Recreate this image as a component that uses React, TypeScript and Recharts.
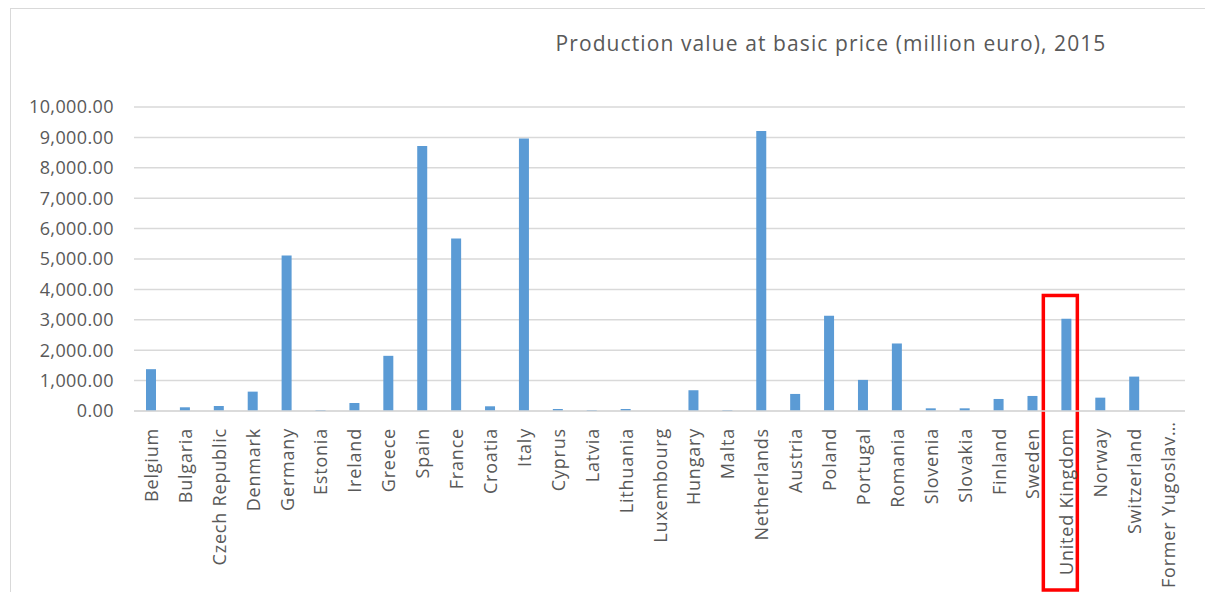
import React from 'react';
import { BarChart, Bar, XAxis, YAxis, CartesianGrid, ReferenceArea } from 'recharts';

const countries = [
  'Belgium', 'Bulgaria', 'Czech Republic', 'Denmark', 'Germany', 'Estonia', 'Ireland', 'Greece',
  'Spain', 'France', 'Croatia', 'Italy', 'Cyprus', 'Latvia', 'Lithuania', 'Luxembourg', 'Hungary',
  'Malta', 'Netherlands', 'Austria', 'Poland', 'Portugal', 'Romania', 'Slovenia', 'Slovakia',
  'Finland', 'Sweden', 'United Kingdom', 'Norway', 'Switzerland', 'Former Yugoslav…',
];

const productionValue = [
  1376, 122, 165, 637, 5115, 33, 264, 1815,
  8713, 5677, 155, 8960, 66, 33, 66, 0, 683,
  33, 9210, 561, 3135, 1023, 2221, 88, 88,
  396, 495, 3036, 439, 1132, 0,
];

const yTicks = [0, 1000, 2000, 3000, 4000, 5000, 6000, 7000, 8000, 9000, 10000];

const highlighted = 'United Kingdom';

const data = countries.map((name, i) => ({ name, value: productionValue[i] }));

const fmt = (v: number) =>
  v.toLocaleString('en-US', { minimumFractionDigits: 2, maximumFractionDigits: 2 });

const font = '"Open Sans", sans-serif';
const textColor = '#595959';
const CHART_H = 584;

// long labels that do not fit below the axis are anchored to the bottom edge
const CountryTick = ({ x, y, payload }: any) => {
  const tooLong = payload.value.length > 15;
  const ty = tooLong ? CHART_H - 4 : y + 9;
  return (
    <text
      transform={`translate(${x + 7},${ty}) rotate(-90)`}
      textAnchor={tooLong ? 'start' : 'end'}
      fill={textColor}
      fontSize={18}
      letterSpacing={0.8}
      fontFamily={font}
    >
      {payload.value}
    </text>
  );
};

const HighlightBox = ({ x, y, width, height }: any) => (
  <rect
    x={x + width / 2 - 23}
    y={y}
    width={34}
    height={height + 179}
    fill="none"
    stroke="#ff0000"
    strokeWidth={3.5}
  />
);

export default function App() {
  return (
    <div style={{ position: 'relative', width: 1197, height: CHART_H, fontFamily: font }}>
      <div
        style={{
          position: 'absolute',
          left: 2,
          top: 0,
          right: 0,
          bottom: 0,
          borderTop: '1px solid #d9d9d9',
          borderLeft: '1px solid #d9d9d9',
        }}
      />
      <div
        style={{
          position: 'absolute',
          left: 823 - 350,
          width: 700,
          top: 22,
          textAlign: 'center',
          fontSize: 21,
          letterSpacing: 1.1,
          lineHeight: '26px',
          color: textColor,
        }}
      >
        Production value at basic price (million euro), 2015
      </div>
      <BarChart
        width={1197}
        height={CHART_H}
        data={data}
        margin={{ top: 99, right: 20, bottom: 0, left: 0 }}
        barSize={10}
        style={{ position: 'absolute', left: 0, top: 0 }}
      >
        <CartesianGrid vertical={false} stroke="#d9d9d9" strokeWidth={1.5} />
        <XAxis
          dataKey="name"
          interval={0}
          height={181}
          tickLine={false}
          axisLine={{ stroke: '#d9d9d9', strokeWidth: 1.5 }}
          tick={<CountryTick />}
        />
        <YAxis
          domain={[0, 10000]}
          ticks={yTicks}
          width={126}
          tickLine={false}
          axisLine={false}
          tickMargin={14}
          tickFormatter={fmt}
          tick={{ fill: textColor, fontSize: 18, letterSpacing: 0.4, fontFamily: font }}
          interval={0}
        />
        <Bar dataKey="value" fill="#5b9bd5" isAnimationActive={false} />
        <ReferenceArea
          x1={highlighted}
          x2={highlighted}
          y1={0}
          y2={3800}
          ifOverflow="visible"
          shape={<HighlightBox />}
        />
      </BarChart>
    </div>
  );
}
